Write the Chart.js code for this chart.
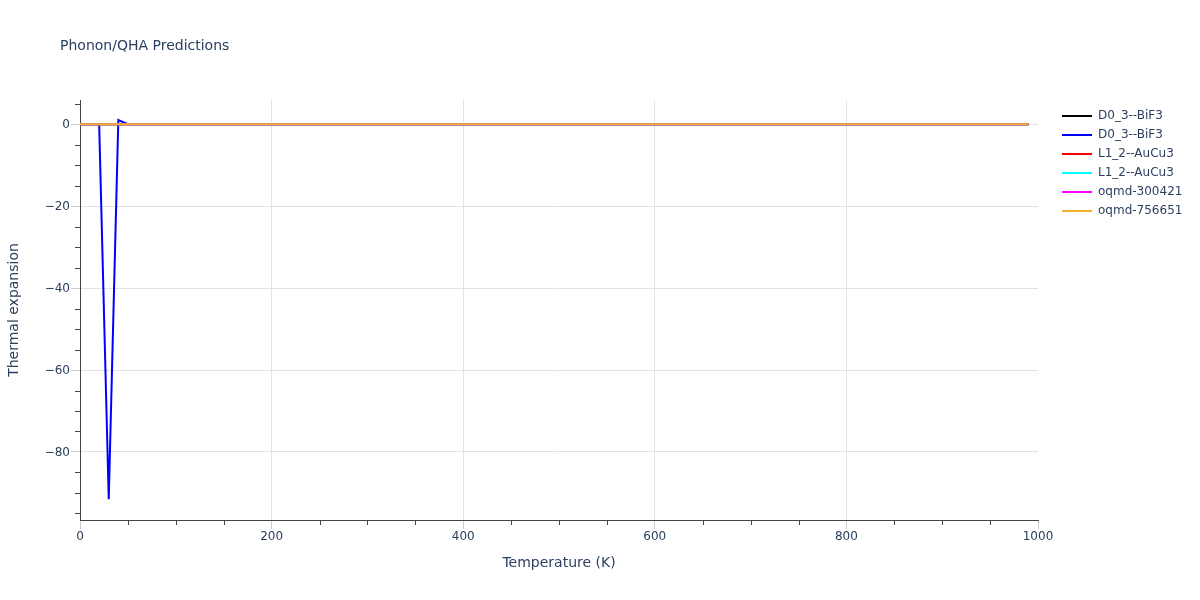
<!DOCTYPE html>
<html>
<head>
<meta charset="utf-8">
<script src="https://cdn.jsdelivr.net/npm/chart.js@4.4.0/dist/chart.umd.min.js"></script>
<style>
  html, body { margin: 0; padding: 0; background: #fff; }
  #wrap { width: 1200px; height: 600px; position: relative; }
</style>
</head>
<body>
<div id="wrap"><canvas id="chart" width="1200" height="600"></canvas></div>
<script>
// --- data ---
const seriesNames = ['D0_3--BiF3', 'D0_3--BiF3', 'L1_2--AuCu3', 'L1_2--AuCu3', 'oqmd-300421', 'oqmd-756651'];
const seriesColors = ['#000000', '#0000ff', '#ff0000', '#00ffff', '#ff00ff', '#f0b32a'];

// temperature grid, 0..990 K every 10 K
const temps = [];
for (let t = 0; t <= 990; t += 10) temps.push(t);

// the blue curve has a dip at low T, then stays at ~0
const blueLowT = [0, 0, 0, -91.5, 1.0, 0];   // 0,10,20,30,40,50 K
const flatValue = 0;                         // every other point sits on ~0

const xTicks = [0, 200, 400, 600, 800, 1000];
const yTicks = [-80, -60, -40, -20, 0];
const xMinorStep = 50, yMinorStep = 5;
const yMin = -96.6, yMax = 5.9;

function seriesValues(i) {
  return temps.map((t, k) => {
    if (i === 1 && k < blueLowT.length) return blueLowT[k];
    return flatValue;
  });
}

const datasets = seriesNames.map((name, i) => ({
  label: name,
  data: seriesValues(i).map((v, k) => ({ x: temps[k], y: v })),
  borderColor: seriesColors[i],
  backgroundColor: seriesColors[i],
  borderWidth: 2,
  pointRadius: 0,
  pointStyle: 'line',
  tension: 0,
  order: seriesNames.length - i
}));

const textColor = '#2a3f5f';
const font = '"DejaVu Sans", Verdana, sans-serif';

// title, legend placement and short minor ticks
const layoutPlugin = {
  id: 'layoutPlugin',
  afterInit(chart) {
    const lg = chart.legend;
    const fit = lg.fit;
    lg.fit = function () {
      fit.call(this);
      this.width = 162;
    };
  },
  afterLayout(chart) {
    chart.legend.left += 17;
    chart.legend.top += 3;
  },
  afterDraw(chart) {
    const ctx = chart.ctx;
    const xs = chart.scales.x, ys = chart.scales.y;
    ctx.save();
    ctx.strokeStyle = '#444444';
    ctx.lineWidth = 1;
    ctx.beginPath();
    for (let v = 0; v <= 1000; v += xMinorStep) {
      if (xTicks.includes(v)) continue;
      const px = Math.round(xs.getPixelForValue(v)) + 0.5;
      ctx.moveTo(px, xs.top);
      ctx.lineTo(px, xs.top + 5);
    }
    for (let v = -95; v <= 5; v += yMinorStep) {
      if (yTicks.includes(v)) continue;
      const py = Math.round(ys.getPixelForValue(v)) + 0.5;
      ctx.moveTo(ys.right, py);
      ctx.lineTo(ys.right - 5, py);
    }
    ctx.stroke();

    ctx.fillStyle = textColor;
    ctx.font = '14px ' + font;
    ctx.textBaseline = 'alphabetic';
    ctx.fillText('Phonon/QHA Predictions', 60, 50);
    ctx.restore();
  }
};

new Chart(document.getElementById('chart'), {
  type: 'line',
  data: { datasets },
  options: {
    responsive: false,
    animation: false,
    layout: { padding: { top: 100, left: 0, right: 0, bottom: 0 } },
    plugins: {
      title: { display: false },
      tooltip: { enabled: false },
      legend: {
        position: 'right',
        align: 'start',
        labels: {
          color: textColor,
          font: { family: font, size: 12 },
          usePointStyle: true,
          pointStyleWidth: 30,
          boxHeight: 12,
          padding: 7,
          sort: (a, b) => a.datasetIndex - b.datasetIndex
        }
      }
    },
    scales: {
      x: {
        type: 'linear',
        min: 0,
        max: 1000,
        afterFit(s) { s.height = 80; },
        afterBuildTicks(s) {
          s.ticks = xTicks.map(v => ({ value: v }));
        },
        ticks: {
          color: textColor,
          font: { family: font, size: 12 },
          maxRotation: 0,
          autoSkip: false,
          padding: 1,
          callback: v => String(v)
        },
        grid: {
          color: c => (c.tick && c.tick.value !== 0 && c.tick.value !== 1000) ? '#e2e2e2' : 'rgba(0,0,0,0)',
          tickColor: '#cccccc',
          tickLength: 9
        },
        border: { color: '#444444', width: 1 },
        title: {
          display: true,
          text: 'Temperature (K)',
          color: textColor,
          font: { family: font, size: 14 },
          padding: { top: 0, bottom: 28 }
        }
      },
      y: {
        min: yMin,
        max: yMax,
        afterFit(s) { s.width = 80; },
        afterBuildTicks(s) {
          s.ticks = yTicks.map(v => ({ value: v }));
        },
        ticks: {
          color: textColor,
          font: { family: font, size: 12 },
          autoSkip: false,
          padding: 1,
          labelOffset: 1,
          callback: v => (v < 0 ? '\u2212' + Math.abs(v) : String(v))
        },
        grid: {
          color: '#e2e2e2',
          tickColor: '#cccccc',
          tickLength: 9
        },
        border: { color: '#444444', width: 1 },
        title: {
          display: true,
          text: 'Thermal expansion',
          color: textColor,
          font: { family: font, size: 14 },
          padding: { top: 6, bottom: 0 }
        }
      }
    }
  },
  plugins: [layoutPlugin]
});
</script>
</body>
</html>
